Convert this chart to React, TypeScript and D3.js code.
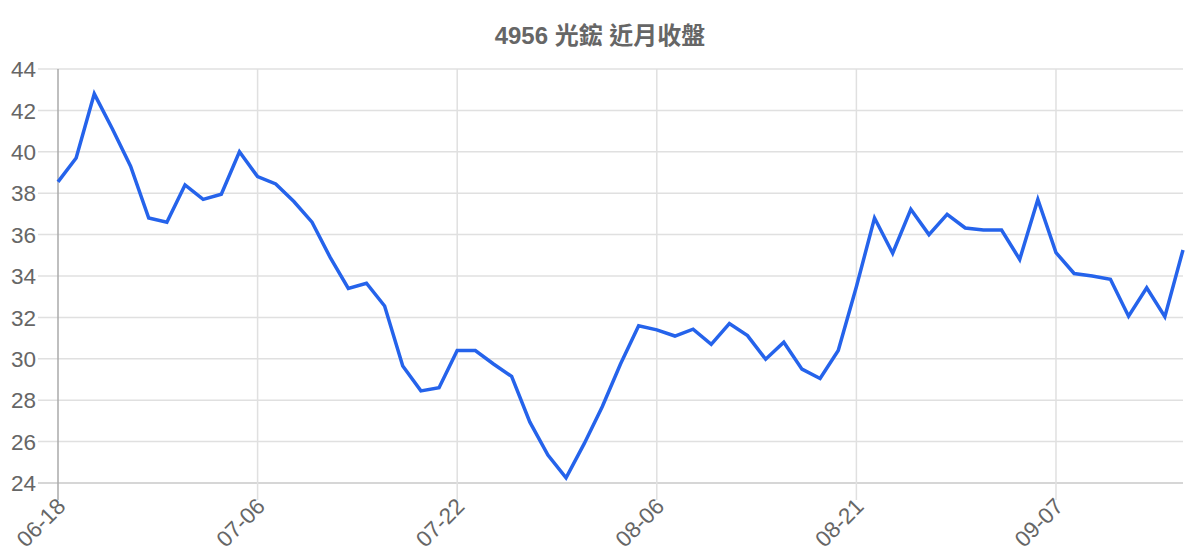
import { useMemo } from 'react';

import { line, scaleLinear, scalePoint } from 'd3';

const title = '4956 光鋐 近月收盤';

const dates: string[] = [
  '06-18', '06-19', '06-20', '06-21', '06-24', '06-25', '06-26', '06-27',
  '06-28', '07-01', '07-02', '07-06', '07-07', '07-08', '07-09', '07-10',
  '07-13', '07-14', '07-15', '07-16', '07-20', '07-21', '07-22', '07-23',
  '07-24', '07-27', '07-28', '07-29', '07-30', '07-31', '08-03', '08-04',
  '08-05', '08-06', '08-07', '08-10', '08-11', '08-12', '08-13', '08-14',
  '08-17', '08-18', '08-19', '08-20', '08-21', '08-24', '08-25', '08-26',
  '08-27', '08-28', '08-31', '09-01', '09-02', '09-03', '09-04', '09-07',
  '09-08', '09-09', '09-10', '09-11', '09-14', '09-15', '09-16',
];

const closes: number[] = [
  38.55, 39.7, 42.8, 41.1, 39.3, 36.8, 36.6, 38.4, 37.7, 37.95,
  40.0, 38.8, 38.45, 37.6, 36.6, 34.9, 33.4, 33.65, 32.55, 29.65,
  28.45, 28.6, 30.4, 30.4, 29.75, 29.15, 26.95, 25.35, 24.25, 25.9,
  27.7, 29.75, 31.6, 31.4, 31.1, 31.43, 30.7, 31.7, 31.12, 29.98,
  30.8, 29.5, 29.05, 30.4, 33.48, 36.8, 35.1, 37.22, 36.0, 36.98,
  36.32, 36.22, 36.22, 34.8, 37.7, 35.13, 34.12, 34.0, 33.84, 32.06,
  33.43, 32.03, 35.26,
];

const yTicks: number[] = [24, 26, 28, 30, 32, 34, 36, 38, 40, 42, 44];
const xLabels: string[] = ['06-18', '07-06', '07-22', '08-06', '08-21', '09-07'];

const W = 1200,
  H = 560;
const margin = { top: 69, right: 17, bottom: 77, left: 58 };
const font = '"Liberation Sans", Arial, "Noto Sans CJK TC", sans-serif';

export default function App() {
  const x = useMemo(
    () => scalePoint<string>().domain(dates).range([margin.left, W - margin.right]),
    []
  );
  const y = useMemo(
    () => scaleLinear().domain([24, 44]).range([H - margin.bottom, margin.top]),
    []
  );
  const path = useMemo(
    () =>
      line<number>()
        .x((_, i) => x(dates[i]) as number)
        .y((d) => y(d))(closes) ?? '',
    [x, y]
  );

  const bottom = H - margin.bottom;

  return (
    <svg
      width={W}
      height={H}
      style={{ position: 'absolute', left: 0, top: 0, background: '#fff' }}
      fontFamily={font}
    >
      <text
        x={W / 2}
        y={44}
        textAnchor="middle"
        fontSize={24}
        fontWeight="bold"
        fill="#666"
      >
        {title}
      </text>

      <g className="grid-y">
        {yTicks.map((t) => (
          <g key={t}>
            <line
              x1={margin.left - 20}
              x2={W - margin.right}
              y1={y(t)}
              y2={y(t)}
              stroke={t === 24 ? '#c8c8c8' : '#e0e0e0'}
              strokeWidth={1.5}
            />
            <text
              x={36}
              y={y(t)}
              dy="0.36em"
              textAnchor="end"
              fontSize={22.5}
              fill="#666"
            >
              {t}
            </text>
          </g>
        ))}
      </g>

      <g className="grid-x">
        {xLabels.map((d, i) => (
          <g key={d}>
            <line
              x1={x(d)}
              x2={x(d)}
              y1={margin.top}
              y2={bottom + 17}
              stroke={i === 0 ? '#aaa' : '#e0e0e0'}
              strokeWidth={1.5}
            />
            <text
              transform={`translate(${(x(d) as number) + 3},${bottom + 19}) rotate(-45)`}
              textAnchor="end"
              dy="0.36em"
              fontSize={22.5}
              fill="#666"
            >
              {d}
            </text>
          </g>
        ))}
      </g>

      <path
        d={path}
        fill="none"
        stroke="#2563eb"
        strokeWidth={3.5}
        strokeLinejoin="miter"
      />
    </svg>
  );
}
